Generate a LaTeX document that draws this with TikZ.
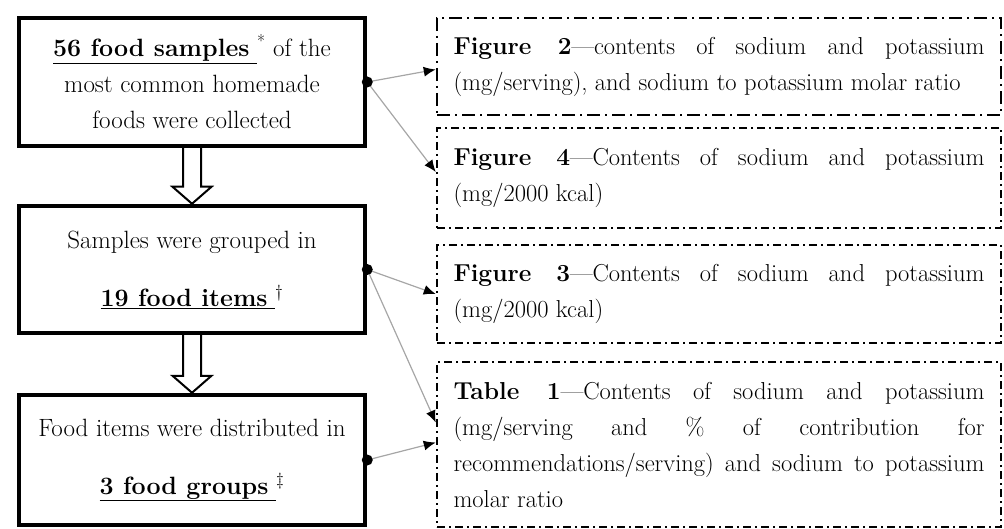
\documentclass[tikz,border=0pt]{standalone}
\usetikzlibrary{positioning,arrows.meta}

\tikzset{
  stagebox/.style={draw, line width=4.5pt, minimum width=346pt, minimum height=128pt, align=center, font=\fontsize{25}{36}\selectfont},
  resultbox/.style={draw, line width=2.5pt, dash pattern=on 8pt off 4pt on 2pt off 4pt, minimum height=97pt, text width=531pt, inner xsep=16.5pt, align=justify, font=\fontsize{24.5}{36}\selectfont},
  hollow/.style={line width=2pt, fill=white},
  link/.style={line width=1.2pt, color=gray!70, -{Latex[length=12pt,width=10pt,color=black]}},
}

\begin{document}
\begin{tikzpicture}[x=1pt,y=-1pt]
\useasboundingbox (0,0) rectangle (1004,529);

\node[stagebox] (samples) at (192,82) {\underline{\textbf{56 food samples}\ }\textsuperscript{*} of the\\most common homemade\\foods were collected};
\node[stagebox, minimum height=127pt] (items) at (192,269.5) {Samples were grouped in\\[22pt]\underline{\textbf{19 food items}\ }\textsuperscript{\textdagger}};
\node[stagebox, minimum height=130pt] (groups) at (192,460) {Food items were distributed in\\[22pt]\underline{\textbf{3 food groups}\ }\textsuperscript{\textdaggerdbl}};

\node[resultbox, dash pattern=on 13pt off 5pt on 2pt off 5pt] (fig2) at (719,66.5) {\textbf{Figure 2}---contents of sodium and potassium \linebreak (mg/serving), and sodium to potassium molar ratio};
\node[resultbox, minimum height=100pt] (fig4) at (719,178) {\textbf{Figure 4}---Contents of sodium and potassium \linebreak (mg/2000 kcal)};
\node[resultbox, minimum height=98pt] (fig3) at (719,294) {\textbf{Figure 3}---Contents of sodium and potassium \linebreak (mg/2000 kcal)};
\node[resultbox, minimum height=165pt] (tab1) at (719,444.5) {\textbf{Table 1}---Contents of sodium and potassium \linebreak (mg/serving and \% of contribution for \linebreak recommendations/serving) and sodium to potassium \linebreak molar ratio};

\draw[hollow] ([xshift=-9pt]samples.south) -- ([xshift=-9pt,yshift=17pt]items.north) -- ([xshift=-19.5pt,yshift=17pt]items.north) -- (items.north) -- ([xshift=19.5pt,yshift=17pt]items.north) -- ([xshift=9pt,yshift=17pt]items.north) -- ([xshift=9pt]samples.south);
\draw[hollow] ([xshift=-9pt]items.south) -- ([xshift=-9pt,yshift=17pt]groups.north) -- ([xshift=-19.5pt,yshift=17pt]groups.north) -- (groups.north) -- ([xshift=19.5pt,yshift=17pt]groups.north) -- ([xshift=9pt,yshift=17pt]groups.north) -- ([xshift=9pt]items.south);

\draw[link] (samples.east) -- ([yshift=-3pt]fig2.west);
\draw[link] (samples.east) -- ([yshift=6pt]fig4.west);
\draw[link] (items.east) -- (fig3.west);
\draw[link] (items.east) -- ([yshift=22pt]tab1.west);
\draw[link] (groups.east) -- ([yshift=2pt]tab1.west);

\fill (samples.east) circle (5.5pt);
\fill (items.east) circle (5.5pt);
\fill (groups.east) circle (5.5pt);
\end{tikzpicture}
\end{document}
